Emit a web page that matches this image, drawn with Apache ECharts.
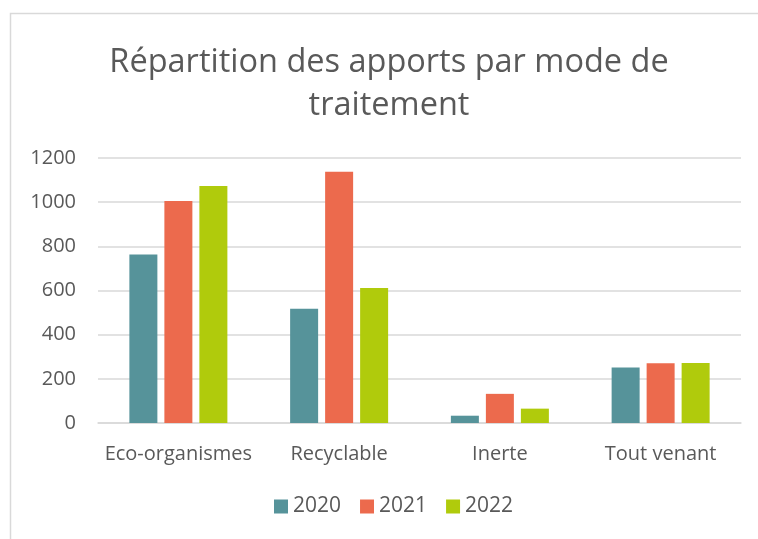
<!DOCTYPE html>
<html><head><meta charset="utf-8">
<script src="https://cdn.jsdelivr.net/npm/echarts@6/dist/echarts.min.js"></script>
<style>html,body{margin:0;padding:0;background:#fff}#c{width:758px;height:539px}</style>
</head><body><div id="c"></div>
<script>
const categories = ['Eco-organismes', 'Recyclable', 'Inerte', 'Tout venant'];
const years = ['2020', '2021', '2022'];
const values2020 = [763, 517, 33, 251];
const values2021 = [1005, 1138, 132, 271];
const values2022 = [1073, 611, 65, 272];
const yTicks = [0, 200, 400, 600, 800, 1000, 1200];
const colors = ['#56939A', '#EC6A4D', '#B0CB0C'];
const font = 'Open Sans';

const chart = echarts.init(document.getElementById('c'), null, {renderer: 'canvas'});
const seriesData = [values2020, values2021, values2022];
chart.setOption({
  animation: false,
  graphic: [{
    type: 'rect', shape: {x: 10.5, y: 13.5, width: 800, height: 600},
    style: {fill: 'none', stroke: '#d9d9d9', lineWidth: 1.5}, silent: true, z: -1
  }],
  title: {
    text: 'Répartition des apports par mode de\ntraitement',
    left: 384, textAlign: 'center', top: 36,
    textStyle: {fontFamily: font, fontSize: 32.5, fontWeight: 'normal', color: '#595959', lineHeight: 43}
  },
  legend: {
    data: years, bottom: 17, left: 269, icon: 'rect', itemWidth: 14, itemHeight: 14, itemGap: 19,
    textStyle: {fontFamily: font, fontSize: 21, color: '#595959'}
  },
  grid: {left: 98, right: 17, top: 158, bottom: 116, containLabel: false},
  xAxis: {
    type: 'category', data: categories,
    axisLine: {show: true, lineStyle: {color: '#d9d9d9', width: 1.5}},
    axisTick: {show: false},
    axisLabel: {fontFamily: font, fontSize: 20, color: '#595959', margin: 21, interval: 0}
  },
  yAxis: {
    type: 'value', min: yTicks[0], max: yTicks[yTicks.length - 1], interval: 200,
    axisLine: {show: false}, axisTick: {show: false},
    splitLine: {lineStyle: {color: '#d9d9d9', width: 1.5}},
    axisLabel: {fontFamily: font, fontSize: 20, color: '#595959', margin: 22, formatter: v => String(v)}
  },
  series: years.map((y, i) => ({
    name: y, type: 'bar', data: seriesData[i], barWidth: 28, barGap: '25%',
    itemStyle: {color: colors[i]}
  }))
});
</script></body></html>
